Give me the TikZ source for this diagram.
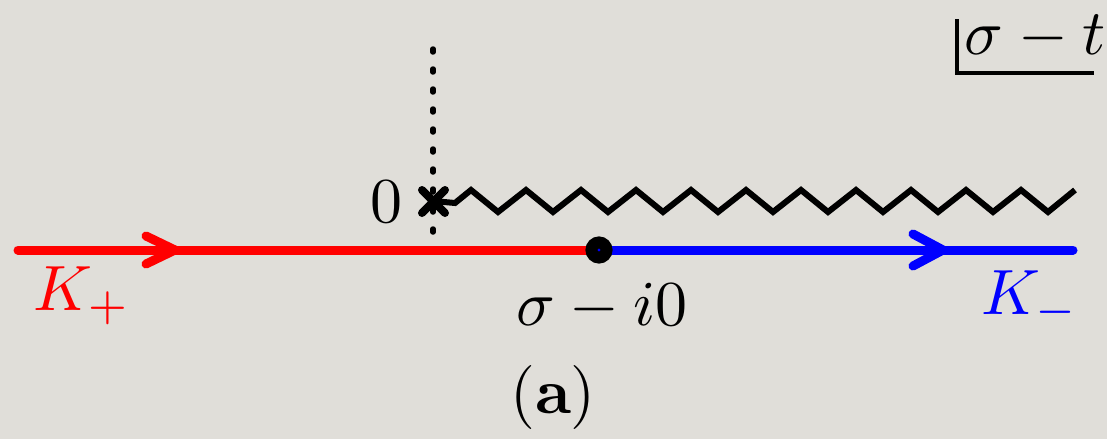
\documentclass[tikz,border=0pt]{standalone}
\usepackage{amsmath}
\usepackage{graphicx}
\definecolor{bgcol}{RGB}{224,222,217}
\newcommand{\bigmath}[1]{\scalebox{6.4}{$#1$}}
\begin{document}
\begin{tikzpicture}[x=1pt,y=-1pt,
  bigtext/.style={inner sep=0pt},
  contour/.style={line width=9pt, line cap=round},
  chevron/.style={line width=9pt, line cap=round, line join=round}]
\fill[bgcol] (0,0) rectangle (1107,439);
\useasboundingbox (0,0) rectangle (1107,439);
% dotted vertical line
\coordinate (vtop) at (433,49);
\coordinate (vbot) at (433,246);
\draw[line width=5.5pt, line cap=round, dash pattern=on 3pt off 17pt] (vtop) -- (vbot);
% branch cut zigzag
\coordinate (o) at (433,201);
\draw[line width=6pt, line join=miter] (o) -- (455,203)
  \foreach \k in {0,...,10} { -- ({471+55*\k},190) -- ({498+55*\k},212) } -- (1075,190);
% cross
\draw[line width=8pt, line cap=round] (422,190) -- (445,213) (422,213) -- (445,190);
% contour
\coordinate (L) at (18,250);
\coordinate (P) at (599,250);
\coordinate (R) at (1073,250);
\draw[contour, red] (L) -- (P);
\draw[contour, blue] (P) -- (R);
\draw[chevron, red] (146,236) -- (175,250) -- (146,264);
\draw[chevron, blue] (913,234) -- (943,250) -- (913,266);
\draw[line width=12pt] (P) circle (7.5pt);
% labels
\node[bigtext, anchor=base] (zero) at (386,222) {\bigmath{0}};
\node[bigtext, anchor=base, red] (kp) at (82,310) {\bigmath{K_+}};
\node[bigtext, anchor=base, blue] (km) at (1030,314) {\bigmath{K_-}};
\node[bigtext, anchor=base] (pt) at (602,325) {\bigmath{\sigma - i0}};
\node[bigtext, anchor=base] (cap) at (553,413) {\bigmath{(\mathbf{a})}};
\node[bigtext, anchor=base] (var) at (1035,54) {\bigmath{\sigma - t}};
\draw[line width=4pt] (957,19) -- (957,73) -- (1094,73);
\end{tikzpicture}
\end{document}
